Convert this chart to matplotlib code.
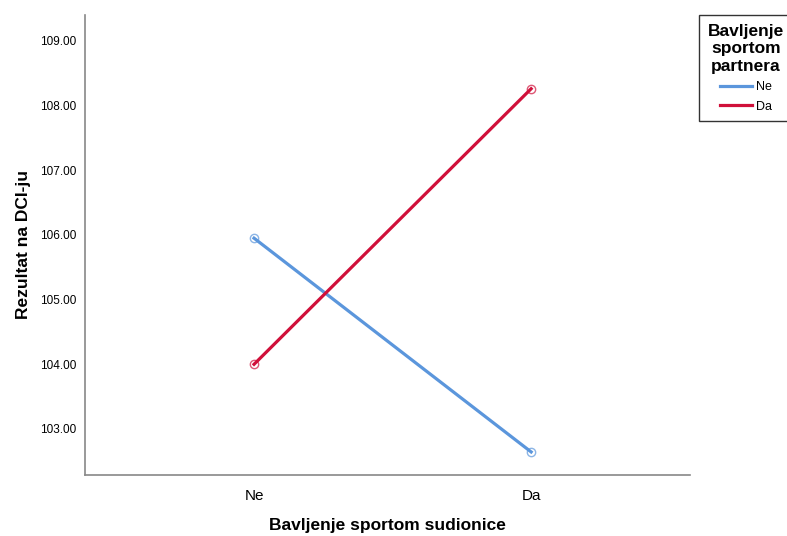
import matplotlib.pyplot as plt
import numpy as np

plt.rcParams['font.family'] = ['Liberation Sans', 'DejaVu Sans']

groups = ['Ne', 'Da']              # Bavljenje sportom sudionice
partner = ['Ne', 'Da']             # Bavljenje sportom partnera
means_ne = [105.95, 102.645]
means_da = [104.0, 108.26]
colors = ['#5b96dc', '#d0103a']
yticks = [103, 104, 105, 106, 107, 108, 109]

fig = plt.figure(figsize=(7.87, 5.36), dpi=100)
ax = fig.add_axes([0.108, 0.114, 0.769, 0.858])

x = np.arange(len(groups))
for vals, c, lab in zip([means_ne, means_da], colors, partner):
    ax.plot(x, vals, color=c, linewidth=2.3, label=lab, zorder=3)
    ax.plot(x, vals, 'o', markersize=6, markerfacecolor='none',
            markeredgecolor=c, markeredgewidth=1.0, alpha=0.7, zorder=4)

ax.set_xlim(-0.61, 1.574)
ax.set_ylim(102.29, 109.40)
ax.set_xticks(x)
ax.set_xticklabels(groups, fontsize=11)
ax.set_yticks(yticks)
ax.set_yticklabels(['%.2f' % v for v in yticks], fontsize=8.5)
ax.tick_params(length=0, pad=6)
ax.tick_params(axis='x', pad=10)

for s in ['top', 'right']:
    ax.spines[s].set_visible(False)
for s in ['left', 'bottom']:
    ax.spines[s].set_color('#888888')
    ax.spines[s].set_linewidth(1.2)

ax.set_xlabel('Bavljenje sportom sudionice', fontsize=12.5, fontweight='bold', labelpad=11)
ax.set_ylabel('Rezultat na DCI-ju', fontsize=12.5, fontweight='bold', labelpad=7)

leg = fig.legend(loc='upper left', bbox_to_anchor=(0.888, 0.972),
                 borderaxespad=0,
                 title='Bavljenje\nsportom\npartnera',
                 title_fontproperties={'weight': 'bold', 'size': 12.5},
                 fontsize=9, frameon=True, fancybox=False,
                 handlelength=2.6, handletextpad=0.3, borderpad=0.7,
                 labelspacing=0.6, alignment='center')
leg.get_title().set_multialignment('center')
leg.get_frame().set_edgecolor('black')
leg.get_frame().set_linewidth(1.0)

fig.savefig('out.png', dpi=100)
